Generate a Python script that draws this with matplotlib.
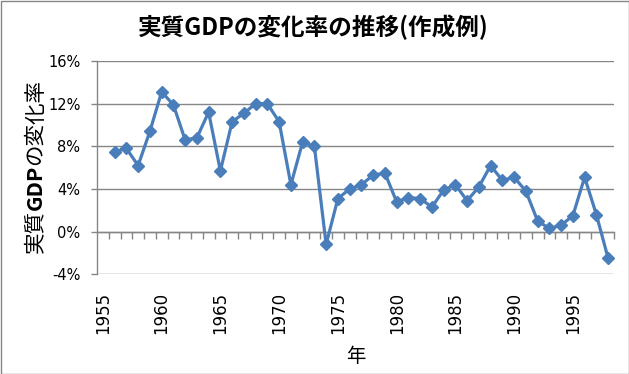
#!/usr/bin/env python3
"""Real GDP growth rate chart (Excel-style line chart with diamond markers)."""

import matplotlib
matplotlib.use("Agg")
import matplotlib.pyplot as plt
from matplotlib.patches import Rectangle

plt.rcParams["font.family"] = ["DejaVu Sans", "Noto Sans CJK JP"]
JP = ["Noto Sans CJK JP", "DejaVu Sans"]

years = list(range(1956, 1999))
growth = [7.5, 7.8, 6.2, 9.4, 13.1, 11.9, 8.6, 8.8, 11.2, 5.7,
          10.3, 11.1, 12.0, 12.0, 10.3, 4.4, 8.4, 8.0, -1.2, 3.1,
          4.0, 4.4, 5.3, 5.5, 2.8, 3.2, 3.1, 2.3, 3.9, 4.4,
          2.9, 4.2, 6.2, 4.8, 5.1, 3.8, 1.0, 0.3, 0.6, 1.5,
          5.1, 1.6, -2.5]
first_year, last_year = 1955, 1998
label_years = list(range(1955, 1996, 5))
y_ticks = [-4, 0, 4, 8, 12, 16]

title = "実質GDPの変化率の推移(作成例)"
xlabel = "年"
ylabel_parts = [("実質", "normal"), ("GDP", "bold"), ("の変化率", "normal")]

GRID = "#868686"
LINE = "#4A7EBB"

W, H = 629, 374
fig = plt.figure(figsize=(W / 100, H / 100), dpi=100)
ax = fig.add_axes([97 / W, 1 - 274.3 / H, (614 - 97) / W, (274.3 - 61) / H])

ax.plot(years, growth, color=LINE, lw=2.3, marker="D", markersize=6,
        markerfacecolor=LINE, markeredgecolor=LINE, zorder=3, clip_on=False)

ax.set_xlim(first_year - 0.5, last_year + 0.5)
ax.set_ylim(y_ticks[0], y_ticks[-1])
ax.set_yticks(y_ticks)
ax.set_yticklabels([f"{v}%" for v in y_ticks], fontsize=10.5)
ax.tick_params(axis="y", length=4, width=1, color=GRID, pad=8)
ax.yaxis.grid(True, color=GRID, lw=1.0)
ax.set_axisbelow(True)

ax.set_xticks(label_years)
ax.set_xticklabels([str(y) for y in label_years], rotation=90, fontsize=12)
ax.tick_params(axis="x", length=0, pad=13)

for s in ("top", "right", "bottom"):
    ax.spines[s].set_visible(False)
ax.spines["left"].set_color(GRID)
ax.spines["left"].set_linewidth(1.0)

# category axis crossing at 0%, ticks between categories
zero_pos = (0 - y_ticks[0]) / (y_ticks[-1] - y_ticks[0])
sec = ax.secondary_xaxis(zero_pos)
sec.set_xticks([y + 0.5 for y in range(first_year, last_year + 1)])
sec.set_xticklabels([])
sec.tick_params(axis="x", length=5, width=1, color=GRID, direction="out")
sec.spines["bottom"].set_color(GRID)
sec.spines["bottom"].set_linewidth(1.0)
for s in ("top", "left", "right"):
    sec.spines[s].set_visible(False)

fig.text(313.5 / W, 1 - 27 / H, title, family=JP, fontsize=17,
         fontweight="bold", ha="center", va="center")
fig.text(355.5 / W, 1 - 356 / H, xlabel, family=JP, fontsize=14,
         ha="center", va="center")

# y label with bold GDP, built piece by piece from the bottom up
fig.canvas.draw()
renderer = fig.canvas.get_renderer()
y_px = 253
for txt, weight in ylabel_parts:
    t = fig.text(35 / W, 1 - y_px / H, txt, family=JP, fontsize=15.5,
                 fontweight=weight, rotation=90, ha="center", va="bottom")
    bb = t.get_window_extent(renderer)
    y_px -= bb.height

fig.add_artist(Rectangle((0.5 / W, 0.5 / H), 1 - 1 / W, 1 - 1 / H,
                         transform=fig.transFigure, fill=False,
                         edgecolor=GRID, lw=1.0))

fig.savefig("out.png", dpi=100)
